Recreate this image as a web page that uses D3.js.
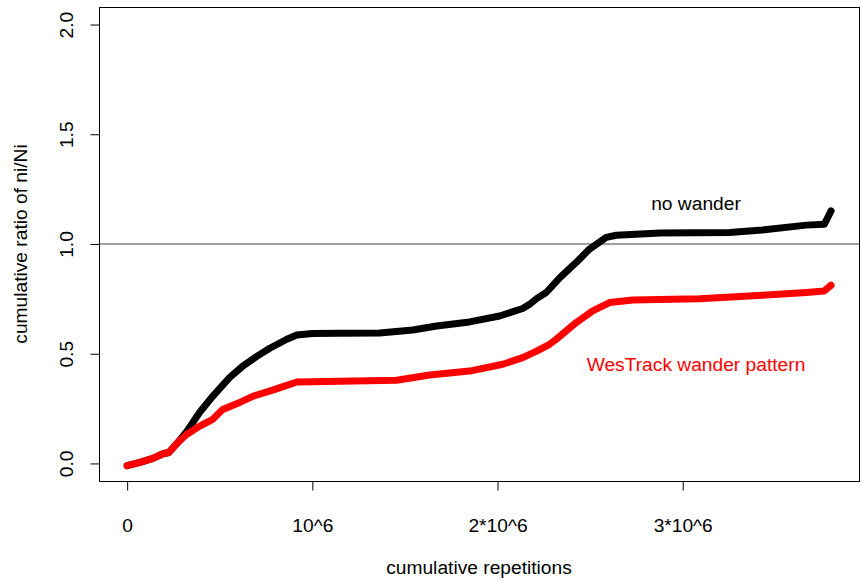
<!doctype html>
<html lang="en">
    <head>
        <meta charset="utf-8">
        <title>cumulative ratio of ni/Ni</title>
        <script type="text/javascript" src="https://cdn.jsdelivr.net/npm/d3@7"></script>
        <style>
            body { margin: 0; background: #fff; }
            text { font-family: "Liberation Sans", Arial, sans-serif; }
        </style>
    </head>
    <body>
        <script type="text/javascript">
            // cumulative repetitions, in units of 10^6
            var noWanderX = [0, 0.069, 0.139, 0.193, 0.225, 0.274, 0.322, 0.392, 0.462, 0.554, 0.624, 0.700,
                             0.770, 0.862, 0.916, 1.0, 1.148, 1.364, 1.542, 1.671, 1.849, 2.011, 2.136, 2.173,
                             2.211, 2.263, 2.337, 2.425, 2.497, 2.587, 2.641, 2.878, 3.253, 3.43, 3.667, 3.765, 3.801];
            var noWanderY = [-0.01, 0.005, 0.023, 0.044, 0.05, 0.096, 0.146, 0.233, 0.306, 0.392, 0.443, 0.488,
                             0.525, 0.566, 0.585, 0.592, 0.593, 0.594, 0.608, 0.626, 0.645, 0.672, 0.706, 0.725,
                             0.751, 0.779, 0.847, 0.916, 0.977, 1.030, 1.040, 1.050, 1.052, 1.064, 1.086, 1.090, 1.151];
            var wanderX = [0, 0.069, 0.139, 0.193, 0.225, 0.274, 0.321, 0.392, 0.462, 0.516, 0.608, 0.678,
                           0.786, 0.862, 0.916, 1.148, 1.455, 1.633, 1.849, 2.028, 2.136, 2.211, 2.281, 2.317,
                           2.425, 2.514, 2.605, 2.729, 3.09, 3.43, 3.667, 3.765, 3.801];
            var wanderY = [-0.01, 0.005, 0.023, 0.044, 0.05, 0.096, 0.132, 0.170, 0.201, 0.246, 0.278, 0.306,
                           0.334, 0.356, 0.371, 0.374, 0.379, 0.403, 0.421, 0.452, 0.482, 0.512, 0.543, 0.566,
                           0.642, 0.695, 0.733, 0.745, 0.751, 0.766, 0.779, 0.786, 0.812];

            var xTicks = [0, 1, 2, 3];
            var xTickLabels = ["0", "10^6", "2*10^6", "3*10^6"];
            var yTicks = [0, 0.5, 1, 1.5, 2];
            var yTickLabels = ["0.0", "0.5", "1.0", "1.5", "2.0"];

            var svgW = 862, svgH = 581;
            var box = {left: 99, right: 859, top: 7, bottom: 481};
            var fontSize = "19.2px";

            // R style: limits padded by 4% on each side
            var xLim = [0, 3.8], yLim = [0, 2];
            var xPad = (xLim[1] - xLim[0]) * 0.04, yPad = (yLim[1] - yLim[0]) * 0.04;

            var xScale = d3.scaleLinear()
                           .domain([xLim[0] - xPad, xLim[1] + xPad])
                           .range([box.left, box.right]);
            var yScale = d3.scaleLinear()
                           .domain([yLim[0] - yPad, yLim[1] + yPad])
                           .range([box.bottom, box.top]);

            var svg = d3.select("body")
                        .append("svg")
                        .attr("width", svgW)
                        .attr("height", svgH);

            // reference line at 1
            svg.append("line")
               .attr("x1", box.left).attr("x2", box.right)
               .attr("y1", yScale(1)).attr("y2", yScale(1))
               .attr("stroke", "#7f7f7f")
               .attr("stroke-width", 1.6);

            var line = d3.line()
                         .x(d => xScale(d[0]))
                         .y(d => yScale(d[1]));

            var series = [
                {x: noWanderX, y: noWanderY, color: "#000000"},
                {x: wanderX, y: wanderY, color: "#ff0000"}
            ];

            svg.selectAll("path.series")
               .data(series)
               .enter()
               .append("path")
               .attr("class", "series")
               .attr("d", s => line(s.x.map((v, i) => [v, s.y[i]])))
               .attr("fill", "none")
               .attr("stroke", s => s.color)
               .attr("stroke-width", 7)
               .attr("stroke-linecap", "round")
               .attr("stroke-linejoin", "round");

            // plot box
            svg.append("rect")
               .attr("x", box.left + 0.5).attr("y", box.top + 0.5)
               .attr("width", box.right - box.left).attr("height", box.bottom - box.top)
               .attr("fill", "none")
               .attr("stroke", "#000")
               .attr("stroke-width", 1);

            // x axis
            var xAxis = d3.axisBottom(xScale)
                          .tickValues(xTicks)
                          .tickFormat((d, i) => xTickLabels[i])
                          .tickSizeInner(9)
                          .tickSizeOuter(0)
                          .tickPadding(28);
            var gx = svg.append("g")
                        .attr("transform", "translate(0," + (box.bottom + 0.5) + ")")
                        .call(xAxis);
            gx.select(".domain")
              .attr("d", "M" + xScale(xTicks[0]) + ",0H" + xScale(xTicks[xTicks.length - 1]));
            gx.selectAll("text")
              .attr("font-size", fontSize)
              .attr("font-family", "'Liberation Sans', Arial, sans-serif")
              .attr("fill", "#000");

            // y axis, labels parallel to the axis
            var yAxis = d3.axisLeft(yScale)
                          .tickValues(yTicks)
                          .tickFormat((d, i) => yTickLabels[i])
                          .tickSizeInner(9)
                          .tickSizeOuter(0);
            var gy = svg.append("g")
                        .attr("transform", "translate(" + (box.left + 0.5) + ",0)")
                        .call(yAxis);
            gy.select(".domain")
              .attr("d", "M0," + yScale(yTicks[0]) + "V" + yScale(yTicks[yTicks.length - 1]));
            gy.selectAll(".tick text")
              .attr("x", 0).attr("dy", null)
              .attr("transform", "translate(-27,0) rotate(-90)")
              .attr("text-anchor", "middle")
              .attr("font-size", fontSize)
              .attr("font-family", "'Liberation Sans', Arial, sans-serif")
              .attr("fill", "#000");

            // axis titles
            svg.append("text")
               .text("cumulative repetitions")
               .attr("x", xScale(1.9))
               .attr("y", 574)
               .attr("text-anchor", "middle")
               .attr("font-size", fontSize)
               .attr("fill", "#000");

            svg.append("text")
               .text("cumulative ratio of ni/Ni")
               .attr("transform", "translate(27," + yScale(1) + ") rotate(-90)")
               .attr("text-anchor", "middle")
               .attr("font-size", fontSize)
               .attr("fill", "#000");

            // series labels
            svg.append("text")
               .text("no wander")
               .attr("x", 696).attr("y", 210)
               .attr("text-anchor", "middle")
               .attr("font-size", fontSize)
               .attr("fill", "#000");

            svg.append("text")
               .text("WesTrack wander pattern")
               .attr("x", 696).attr("y", 371)
               .attr("text-anchor", "middle")
               .attr("font-size", fontSize)
               .attr("fill", "#ff0000");
        </script>
    </body>
</html>
